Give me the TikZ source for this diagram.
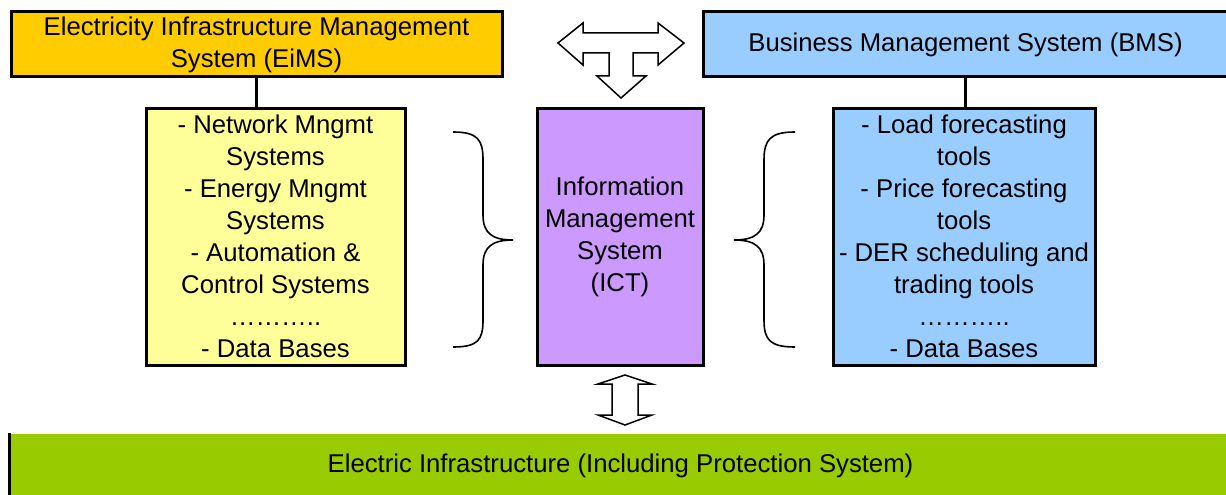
\documentclass[tikz,border=0pt]{standalone}
\usepackage{fontspec}
\setmainfont{Liberation Sans}
\definecolor{eorange}{HTML}{FFCC00}
\definecolor{eblue}{HTML}{99CCFF}
\definecolor{eyellow}{HTML}{FFFF99}
\definecolor{epurple}{HTML}{CC99FF}
\definecolor{egreen}{HTML}{99CC00}
\tikzset{
  box/.style={draw=black, line width=3pt, rectangle, align=center, inner sep=0pt,
    font=\fontsize{25.7}{32}\selectfont},
  blockarrow/.style={draw=black, fill=white, line width=1.5pt, line join=miter},
  bracepath/.style={draw=black, line width=1.6pt},
  conn/.style={draw=black, line width=3pt}
}
\begin{document}
\begin{tikzpicture}[x=1pt,y=-1pt]
\useasboundingbox (0,0) rectangle (1226,495);
\clip (0,0) rectangle (1226,495);
\fill[white] (0,0) rectangle (1226,495);

\node[box, fill=eorange, minimum width=491pt, minimum height=65pt] (eims) at (256.5,44.5)
  {Electricity Infrastructure Management\\System (EiMS)};
\node[box, fill=eblue, minimum width=525pt, minimum height=65pt] (bms) at (965.5,44.5)
  {Business Management System (BMS)};

\node[box, fill=eyellow, minimum width=259pt, minimum height=257pt] (left) at (275.5,236.5)
  {- Network Mngmt\\Systems\\- Energy Mngmt\\Systems\\- Automation \&\\Control Systems\\………..\\- Data Bases};
\node[box, fill=epurple, minimum width=166pt, minimum height=257pt] (ims) at (620,236.5)
  {Information\\Management\\System\\(ICT)};
\node[box, fill=eblue, minimum width=262pt, minimum height=257pt] (right) at (964,236.5)
  {- Load forecasting\\tools\\- Price forecasting\\tools\\- DER scheduling and\\trading tools\\………..\\- Data Bases};

\node[box, draw=none, fill=egreen, minimum width=1219pt, minimum height=64pt] (infra) at (620.5,466)
  {Electric Infrastructure (Including Protection System)};
\draw[conn] (infra.north west) -- (infra.south west);

\coordinate (eimsdrop) at (256.5,77);
\draw[conn] (eimsdrop) -- (eimsdrop |- left.north);
\coordinate (bmsdrop) at (965,77);
\draw[conn] (bmsdrop) -- (bmsdrop |- right.north);

% braces
\draw[bracepath] (453,132) .. controls (478,132) and (483,140) .. (483,160) -- (483,215)
  .. controls (483,233) and (492,240) .. (513,240)
  .. controls (492,240) and (483,247) .. (483,265) -- (483,320)
  .. controls (483,340) and (478,347) .. (453,347);
\draw[bracepath] (795,132) .. controls (770,132) and (764,140) .. (764,160) -- (764,215)
  .. controls (764,233) and (755,240) .. (734,240)
  .. controls (755,240) and (764,247) .. (764,265) -- (764,320)
  .. controls (764,340) and (770,347) .. (795,347);

% T-shaped block arrow
\draw[blockarrow] (558,43) -- (583,23) -- (583,33) -- (658,33) -- (658,23) -- (684,43)
  -- (658,65) -- (658,53) -- (633,53) -- (633,76) -- (646,76) -- (621,98) -- (597,76)
  -- (609,76) -- (609,53) -- (583,53) -- (583,65) -- cycle;

% vertical double block arrow
\draw[blockarrow] (625,375) -- (652,384) -- (638,384) -- (638,415) -- (652,415) -- (625,425)
  -- (598,415) -- (612,415) -- (612,384) -- (598,384) -- cycle;
\end{tikzpicture}
\end{document}
